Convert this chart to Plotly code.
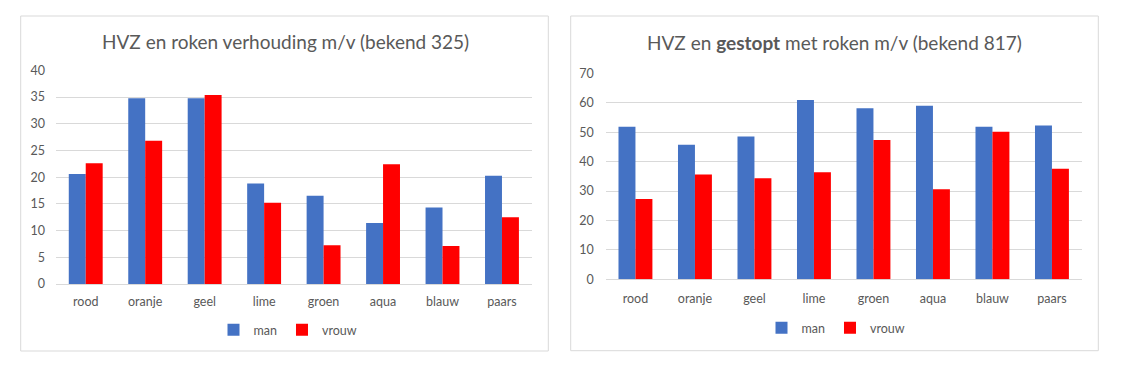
import plotly.graph_objects as go

# page body has an 8px default margin; draw the figure slightly smaller and
# shift every layout position by that offset so the screenshot lines up
OFF = 8
W, H = 1122 - 2 * OFF, 373 - 2 * OFF

categories = ["rood", "oranje", "geel", "lime", "groen", "aqua", "blauw", "paars"]

left_title = "HVZ en roken verhouding m/v (bekend 325)"
left_man = [20.6, 34.75, 34.75, 18.8, 16.5, 11.4, 14.3, 20.25]
left_vrouw = [22.6, 26.8, 35.4, 15.2, 7.25, 22.4, 7.1, 12.5]

right_title = "HVZ en <b>gestopt</b> met roken m/v (bekend 817)"
right_man = [51.8, 45.7, 48.5, 60.9, 58.1, 59.0, 51.8, 52.3]
right_vrouw = [27.3, 35.6, 34.3, 36.4, 47.3, 30.6, 50.1, 37.6]

series_names = ["man", "vrouw"]
BLUE = "#4472C4"
RED = "#FF0000"
GRID = "#D9D9D9"
TXT = "#595959"
FONT = "Lato"


def px(x):
    return (x - OFF) / W


def py(y):
    return (H - (y - OFF)) / H


fig = go.Figure()

fig.add_trace(go.Bar(x=categories, y=left_man, name=series_names[0], marker=dict(color=BLUE, line=dict(width=0)),
                     xaxis="x", yaxis="y", legend="legend"))
fig.add_trace(go.Bar(x=categories, y=left_vrouw, name=series_names[1], marker=dict(color=RED, line=dict(width=0)),
                     xaxis="x", yaxis="y", legend="legend"))
fig.add_trace(go.Bar(x=categories, y=right_man, name=series_names[0], marker=dict(color=BLUE, line=dict(width=0)),
                     xaxis="x2", yaxis="y2", legend="legend2"))
fig.add_trace(go.Bar(x=categories, y=right_vrouw, name=series_names[1], marker=dict(color=RED, line=dict(width=0)),
                     xaxis="x2", yaxis="y2", legend="legend2"))

xcommon = dict(type="category", showline=False, showgrid=False, zeroline=False, ticks="", automargin=False,
               tickfont=dict(family=FONT, size=12.5, color=TXT), fixedrange=True)
ycommon = dict(showline=False, showgrid=True, gridcolor=GRID, gridwidth=1, zeroline=True, automargin=False,
               zerolinecolor=GRID, zerolinewidth=1, ticks="",
               tickfont=dict(family=FONT, size=12.5, color=TXT), fixedrange=True)

fig.update_layout(
    template="none",
    width=W, height=H,
    margin=dict(l=0, r=0, t=0, b=0, pad=0, autoexpand=False),
    paper_bgcolor="white", plot_bgcolor="white",
    barmode="group", bargap=0.43, bargroupgap=0,
    font=dict(family=FONT, color=TXT),
    xaxis=dict(domain=[px(56), px(531.7)], anchor="y", ticklabelstandoff=8, **xcommon),
    yaxis=dict(domain=[py(284), py(70.3)], anchor="x", range=[0, 40], dtick=5, ticklabelstandoff=10, **ycommon),
    xaxis2=dict(domain=[px(605.7), px(1081.7)], anchor="y2", ticklabelstandoff=10, **xcommon),
    yaxis2=dict(domain=[py(279.3), py(73.3)], anchor="x2", range=[0, 70], dtick=10, ticklabelstandoff=11, **ycommon),
    legend=dict(orientation="h", x=px(288), xanchor="center", y=py(330), yanchor="middle",
                font=dict(family=FONT, size=12.5, color=TXT), itemwidth=30, bgcolor="rgba(0,0,0,0)"),
    legend2=dict(orientation="h", x=px(836), xanchor="center", y=py(328), yanchor="middle",
                 font=dict(family=FONT, size=12.5, color=TXT), itemwidth=30, bgcolor="rgba(0,0,0,0)"),
    shapes=[
        dict(type="rect", xref="paper", yref="paper", x0=px(20.7), x1=px(548.3), y0=py(351), y1=py(16),
             line=dict(color=GRID, width=1), fillcolor="rgba(0,0,0,0)", layer="below"),
        dict(type="rect", xref="paper", yref="paper", x0=px(570.7), x1=px(1098.3), y0=py(350.7), y1=py(16),
             line=dict(color=GRID, width=1), fillcolor="rgba(0,0,0,0)", layer="below"),
    ],
    annotations=[
        dict(text=left_title, xref="paper", yref="paper", x=px(285), y=py(41), xanchor="center", yanchor="middle",
             showarrow=False, font=dict(family=FONT, size=19, color=TXT)),
        dict(text=right_title, xref="paper", yref="paper", x=px(834), y=py(42), xanchor="center", yanchor="middle",
             showarrow=False, font=dict(family=FONT, size=19, color=TXT)),
    ],
)

fig.write_html("out.html")
